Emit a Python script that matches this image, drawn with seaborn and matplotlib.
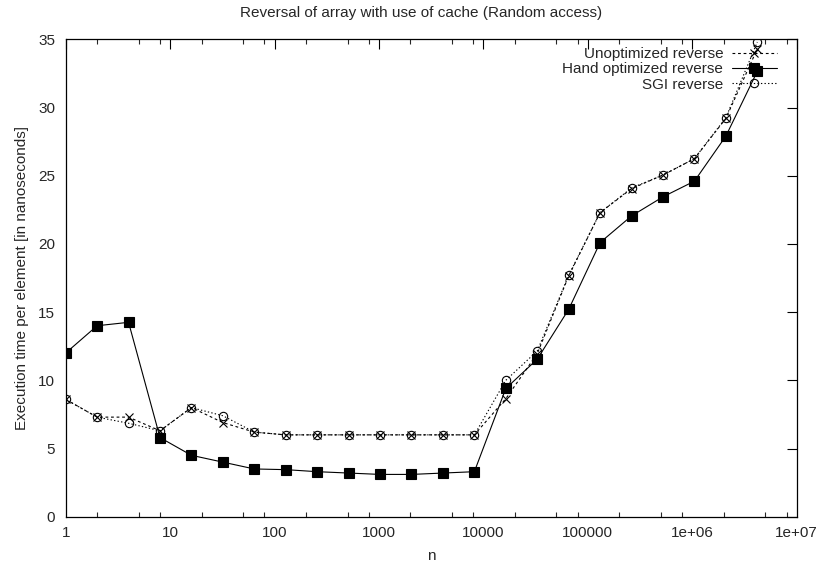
import numpy as np
import pandas as pd
import matplotlib
matplotlib.use("Agg")
import matplotlib.pyplot as plt
from matplotlib.ticker import LogLocator, FixedLocator, NullFormatter, FixedFormatter
import seaborn as sns

n_values = [1, 2, 4, 8, 16, 32, 64, 128, 256, 512, 1024, 2048, 4096, 8192,
            16384, 32768, 65536, 131072, 262144, 524288, 1048576, 2097152, 4194304]
unoptimized = [8.6, 7.3, 7.3, 6.3, 8.0, 6.9, 6.2, 6.0, 6.0, 6.0, 6.0, 6.0, 6.0, 6.0,
               8.65, 11.95, 17.65, 22.3, 24.05, 25.05, 26.25, 29.2, 34.3]
hand_optimized = [12.0, 14.0, 14.25, 5.8, 4.5, 4.0, 3.5, 3.45, 3.3, 3.2, 3.1, 3.1, 3.2, 3.3,
                  9.4, 11.55, 15.2, 20.1, 22.05, 23.45, 24.6, 27.9, 32.65]
sgi = [8.6, 7.3, 6.85, 6.3, 8.0, 7.4, 6.2, 6.0, 6.0, 6.0, 6.0, 6.0, 6.0, 6.0,
       10.0, 12.15, 17.7, 22.3, 24.1, 25.05, 26.25, 29.25, 34.8]
series_names = ["Unoptimized reverse", "Hand optimized reverse", "SGI reverse"]
x_ticks = [1, 10, 100, 1000, 10000, 100000, 1e6, 1e7]
x_tick_labels = ["1", "10", "100", "1000", "10000", "100000", "1e+06", "1e+07"]
y_ticks = [0, 5, 10, 15, 20, 25, 30, 35]

FS = 11
sns.set_style("white")
plt.rcParams["font.family"] = ["Liberation Sans", "DejaVu Sans"]
plt.rcParams["font.size"] = FS

W, H = 818, 566
L, R, T, B = 65.7, 796.7, 39.3, 516.7
fig = plt.figure(figsize=(W / 100, H / 100), dpi=100)
ax = fig.add_axes([L / W, 1 - B / H, (R - L) / W, (B - T) / H])

df_u = pd.DataFrame({"n": n_values, "t": unoptimized})
df_h = pd.DataFrame({"n": n_values, "t": hand_optimized})
df_s = pd.DataFrame({"n": n_values, "t": sgi})

sns.lineplot(data=df_u, x="n", y="t", ax=ax, color="black", linewidth=0.8,
             linestyle=(0, (2.5, 2.5)), marker="x", markersize=6,
             markeredgecolor="black", markeredgewidth=0.8,
             label=series_names[0], legend=False)
sns.lineplot(data=df_h, x="n", y="t", ax=ax, color="black", linewidth=0.8,
             linestyle="-", marker="s", markersize=6.5,
             markeredgecolor="black", markerfacecolor="black", markeredgewidth=0.8,
             label=series_names[1], legend=False)
sns.lineplot(data=df_s, x="n", y="t", ax=ax, color="black", linewidth=0.8,
             linestyle=(0, (1.2, 2.0)), marker="o", markersize=6,
             markeredgecolor="black", markerfacecolor="none", markeredgewidth=0.8,
             label=series_names[2], legend=False)

ax.set_xscale("log")
ax.set_xlim(1, 1e7)
ax.set_ylim(0, 35)
ax.xaxis.set_major_locator(FixedLocator(x_ticks))
ax.xaxis.set_major_formatter(FixedFormatter(x_tick_labels))
ax.xaxis.set_minor_locator(LogLocator(base=10, subs=[2, 5, 8], numticks=20))
ax.xaxis.set_minor_formatter(NullFormatter())
ax.set_yticks(y_ticks)
ax.set_yticklabels([str(v) for v in y_ticks])

ax.tick_params(axis="both", which="major", direction="in", length=7, width=0.8,
               top=True, right=True, labelsize=FS, color="black")
ax.tick_params(axis="x", which="major", pad=7.0)
ax.tick_params(axis="y", which="major", pad=7.5)
ax.tick_params(axis="x", which="minor", direction="in", length=3.5, width=0.8,
               top=True, bottom=True)
for sp in ax.spines.values():
    sp.set_visible(True)
    sp.set_color("black")
    sp.set_linewidth(0.9)

ax.set_xlabel("n", fontsize=FS)
ax.xaxis.set_label_coords(0.5, (B - 556) / (B - T))
ax.xaxis.label.set_verticalalignment("center")
ax.set_ylabel("Execution time per element [in nanoseconds]", fontsize=FS)
ax.yaxis.set_label_coords((22 - L) / (R - L), 0.5)
ax.yaxis.label.set_verticalalignment("center")
fig.text(421 / W, 1 - 13 / H, "Reversal of array with use of cache (Random access)",
         ha="center", va="center", fontsize=FS)

handles, labels = ax.get_legend_handles_labels()
fs_px = FS * 100 / 72
ax.legend(handles, labels, loc="upper right",
          bbox_to_anchor=(777.3 / W, 1 - 47.0 / H), bbox_transform=fig.transFigure,
          frameon=False, markerfirst=False, handlelength=45.6 / fs_px,
          handletextpad=8.4 / fs_px, labelspacing=0.085, fontsize=FS,
          borderaxespad=0.0, borderpad=0.0)

fig.savefig("out.png", dpi=100)
